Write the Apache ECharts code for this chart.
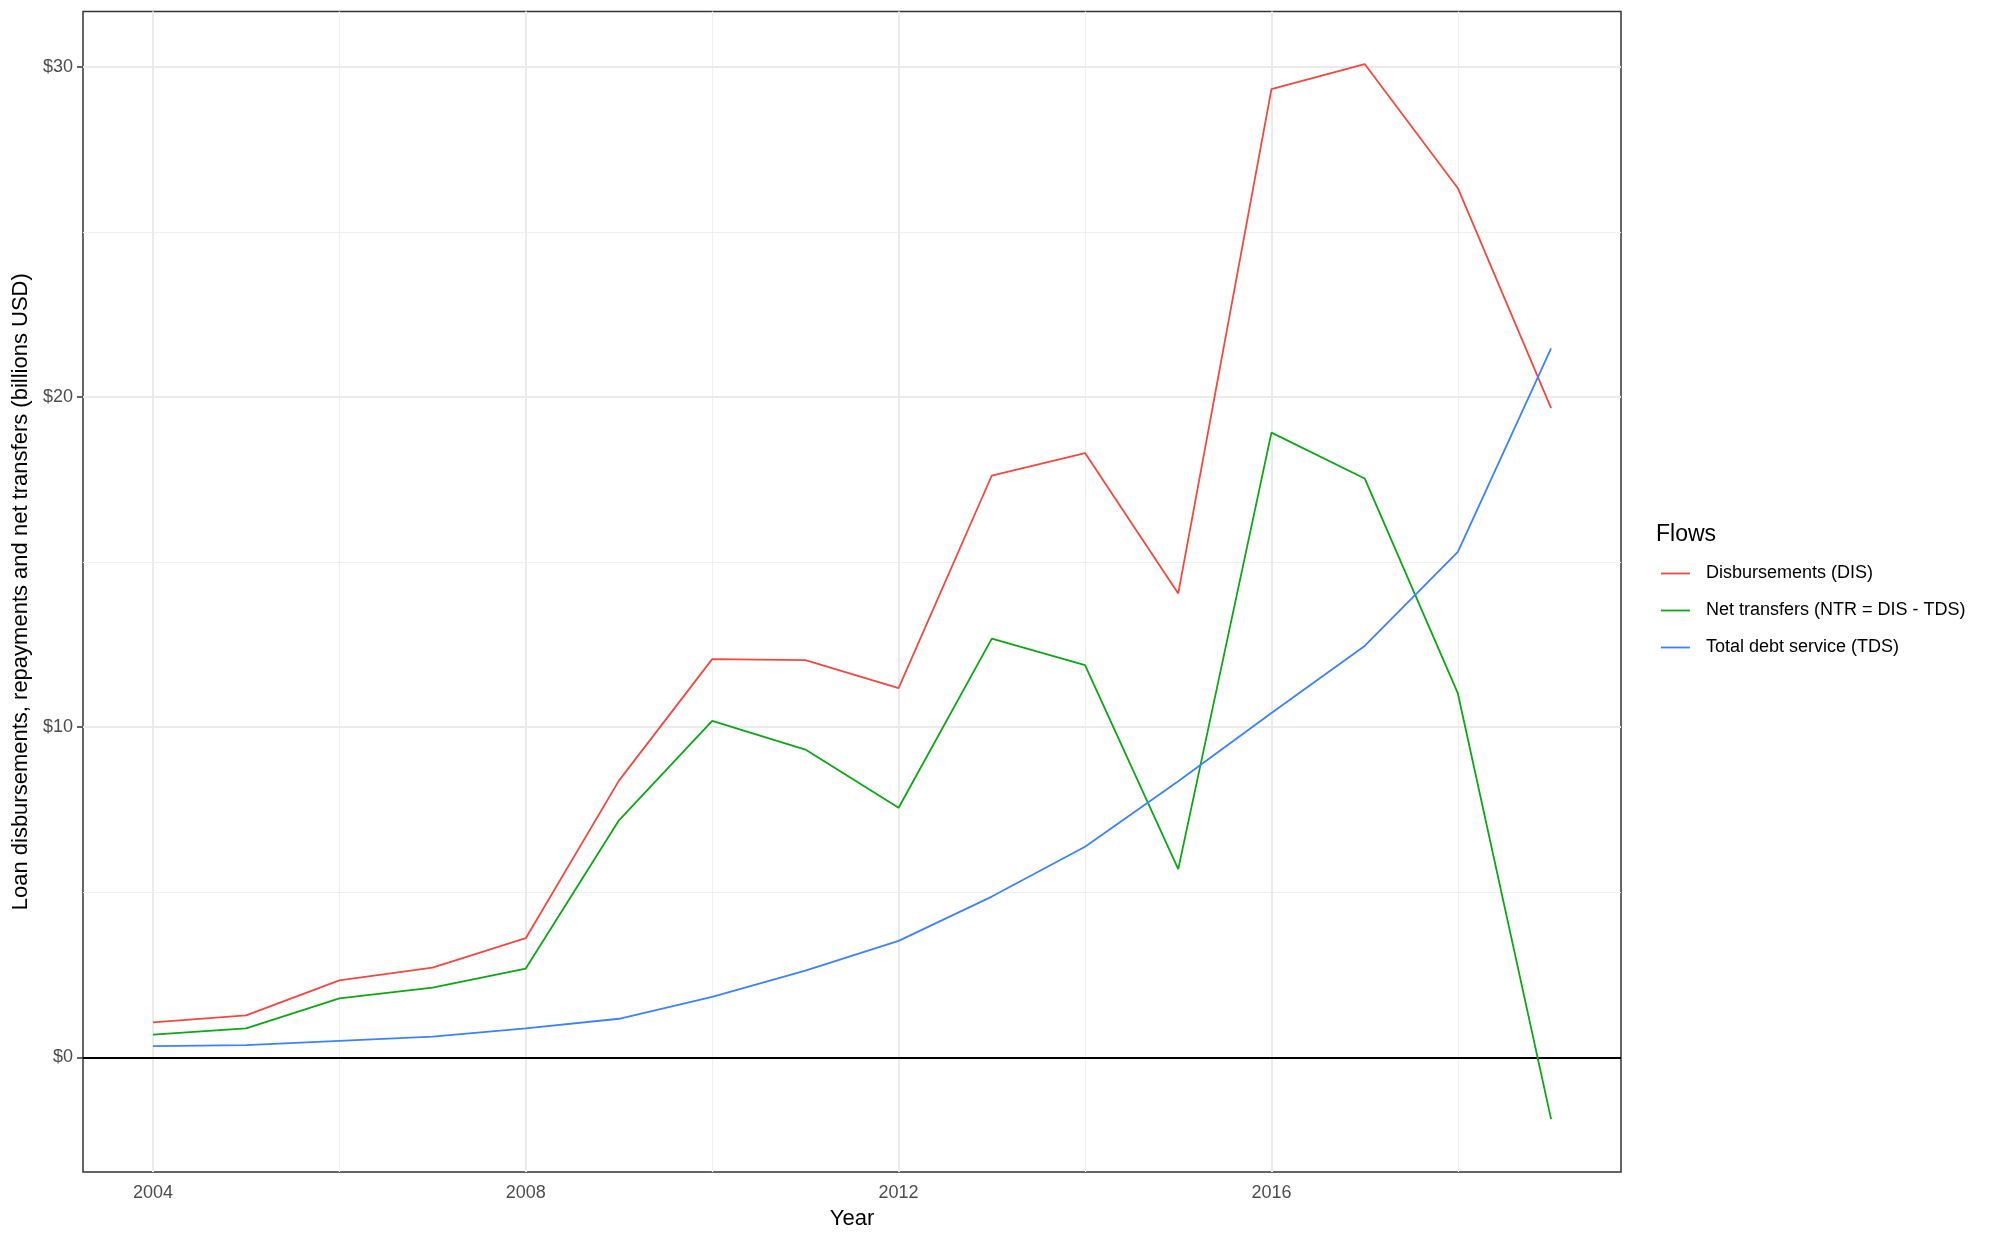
<!DOCTYPE html>
<html>
<head>
<meta charset="utf-8">
<script src="https://cdn.jsdelivr.net/npm/echarts@6/dist/echarts.min.js"></script>
<style>
html,body{margin:0;padding:0;background:#fff;}
#chart{width:2000px;height:1241px;}
</style>
</head>
<body>
<div id="chart"></div>
<script>
// ---- Data (billions USD) ----
const years = [2004,2005,2006,2007,2008,2009,2010,2011,2012,2013,2014,2015,2016,2017,2018,2019];
const disbursements = [1.06,1.27,2.33,2.72,3.61,8.38,12.06,12.03,11.18,17.62,18.30,14.05,29.32,30.08,26.32,19.66];
const netTransfers  = [0.69,0.88,1.79,2.11,2.69,7.18,10.19,9.32,7.56,12.68,11.88,5.70,18.92,17.53,11.02,-1.87];
const debtService   = [0.34,0.37,0.50,0.63,0.88,1.17,1.83,2.63,3.53,4.87,6.38,8.36,10.43,12.46,15.31,21.47];

const seriesNames = ['Disbursements (DIS)','Net transfers (NTR = DIS - TDS)','Total debt service (TDS)'];
const seriesColors = ['#F5473F','#0AA814','#3B82FF'];

const xMajor = [2004,2008,2012,2016];
const xMinor = [2006,2010,2014,2018];
const yMajor = [0,10,20,30];
const yMinor = [5,15,25];
const xRange = [2003.25, 2019.75];
const yRange = [-3.47, 31.67];

const FONT = '"Liberation Sans", Arial, sans-serif';

function pairs(vals){ return years.map((y,i)=>[y, vals[i]]); }

const gridMarks = [];
yMinor.forEach(v=>gridMarks.push({yAxis:v, lineStyle:{color:'#F0F0F0', width:1.2, type:'solid'}}));
xMinor.forEach(v=>gridMarks.push({xAxis:v, lineStyle:{color:'#F0F0F0', width:1.2, type:'solid'}}));
yMajor.forEach(v=>gridMarks.push({yAxis:v, lineStyle:{color:'#EBEBEB', width:2, type:'solid'}}));
xMajor.forEach(v=>gridMarks.push({xAxis:v, lineStyle:{color:'#EBEBEB', width:2, type:'solid'}}));

const chart = echarts.init(document.getElementById('chart'), null, {renderer:'canvas'});
const dataSeries = [disbursements, netTransfers, debtService].map((vals,i)=>({
  name: seriesNames[i],
  type: 'line',
  data: pairs(vals),
  symbol: 'none',
  showSymbol: false,
  lineStyle: {color: seriesColors[i], width: 1.8},
  itemStyle: {color: seriesColors[i]},
  z: 3,
  animation: false
}));

chart.setOption({
  animation: false,
  backgroundColor: '#ffffff',
  title: {
    text: 'Flows',
    left: 1656,
    top: 523,
    padding: 0,
    textStyle: {fontFamily: FONT, fontSize: 23, fontWeight: 'normal', color: '#000'}
  },
  legend: {
    orient: 'vertical',
    left: 1660,
    top: 564.5,
    padding: 0,
    itemWidth: 29,
    itemHeight: 14,
    itemGap: 19,
    data: seriesNames,
    itemStyle: {opacity: 0},
    lineStyle: {width: 1.8},
    textStyle: {fontFamily: FONT, fontSize: 18, color: '#000', padding: [0,0,0,11]}
  },
  grid: {
    left: 83, right: 379, top: 11.5, bottom: 69,
    show: true, borderColor: '#333333', borderWidth: 1.5, backgroundColor: '#fff',
    containLabel: false
  },
  xAxis: {
    type: 'value',
    min: xRange[0], max: xRange[1],
    name: 'Year',
    nameLocation: 'middle',
    nameGap: 36,
    nameTextStyle: {fontFamily: FONT, fontSize: 22, color: '#000'},
    axisLine: {show: false},
    axisTick: {show: true, length: 6, lineStyle: {color: '#333333', width: 1.5}, customValues: xMajor},
    axisLabel: {customValues: xMajor, formatter: v => String(v), fontFamily: FONT, fontSize: 18, color: '#4D4D4D', margin: 12},
    splitLine: {show: false}
  },
  yAxis: {
    type: 'value',
    min: yRange[0], max: yRange[1],
    name: 'Loan disbursements, repayments and net transfers (billions USD)',
    nameLocation: 'middle',
    nameGap: 43,
    nameTextStyle: {fontFamily: FONT, fontSize: 22, color: '#000'},
    axisLine: {show: false},
    axisTick: {show: true, length: 6, lineStyle: {color: '#333333', width: 1.5}, customValues: yMajor},
    axisLabel: {customValues: yMajor, formatter: v => '$' + v, fontFamily: FONT, fontSize: 18, color: '#4D4D4D', margin: 10},
    splitLine: {show: false}
  },
  series: [
    {
      name: 'grid',
      type: 'line',
      data: [],
      silent: true,
      z: 1,
      markLine: {
        silent: true,
        symbol: ['none','none'],
        label: {show: false},
        lineStyle: {type: 'solid'},
        z: 1,
        animation: false,
        data: gridMarks
      }
    },
    {
      name: 'zero',
      type: 'line',
      data: [],
      silent: true,
      z: 2,
      markLine: {
        silent: true,
        symbol: ['none','none'],
        label: {show: false},
        lineStyle: {type: 'solid'},
        z: 2,
        animation: false,
        data: [{yAxis: 0, lineStyle: {color: '#000', width: 2, type: 'solid'}}]
      }
    }
  ].concat(dataSeries)
});
</script>
</body>
</html>
